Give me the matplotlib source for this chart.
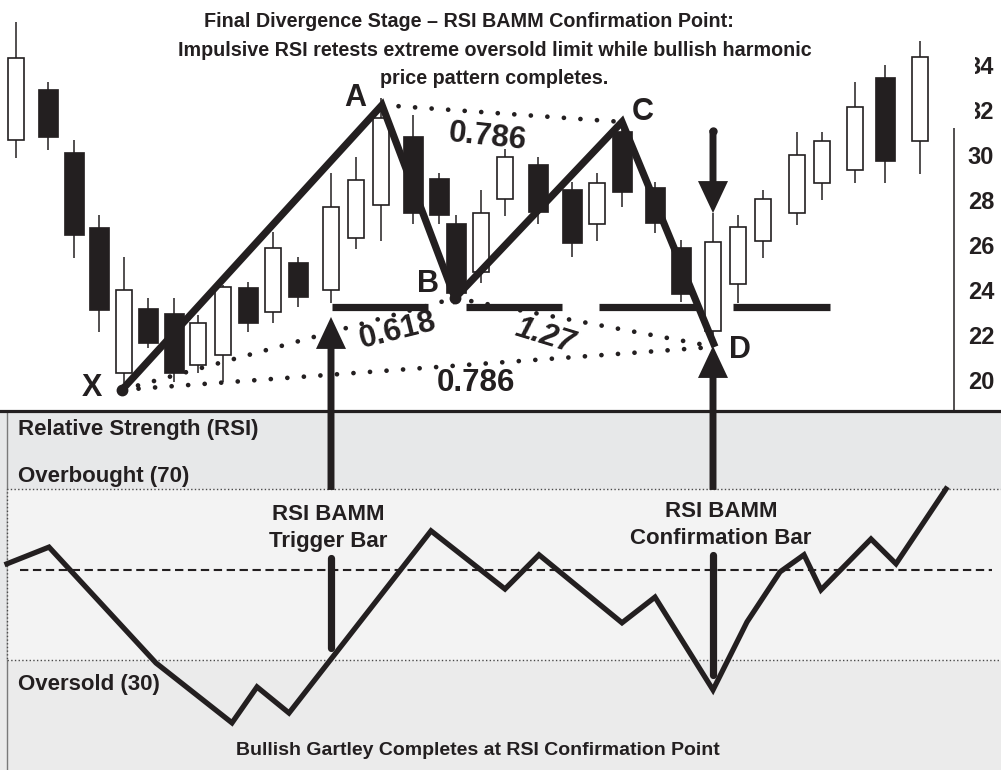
#!/usr/bin/env python3
# Bullish Gartley completing at an RSI BAMM confirmation bar: candlestick
# price panel with the XABCD legs and Fibonacci ratios on top, RSI panel
# with overbought/oversold bands underneath.

import matplotlib
matplotlib.use("Agg")
import matplotlib.pyplot as plt
from matplotlib.patches import Rectangle

INK = "#231f20"
plt.rcParams["font.family"] = ["Liberation Sans", "DejaVu Sans"]
plt.rcParams["font.weight"] = "bold"

# ---------------------------------------------------------------------------
# Data
# ---------------------------------------------------------------------------

# Candles (session position, OHLC)
bar_x = [16, 48, 74, 99, 124, 148, 174, 198, 223, 248, 273, 298, 331, 356,
         381, 413, 439, 456, 481, 505, 538, 572, 597, 622, 655, 681, 713,
         738, 763, 797, 822, 855, 885, 920]
opens = [30.67, 32.93, 30.13, 26.80, 20.31, 23.20, 22.98, 20.67, 21.11,
         24.13, 23.02, 25.24, 24.00, 26.31, 27.78, 30.84, 28.98, 26.98,
         24.80, 28.04, 29.60, 28.49, 26.93, 31.07, 28.58, 25.91, 22.18,
         24.27, 26.18, 27.42, 28.76, 29.33, 33.47, 30.62]
highs = [35.91, 33.24, 30.67, 27.33, 25.47, 23.64, 23.64, 22.89, 24.20,
         24.36, 26.58, 25.47, 29.20, 29.91, 32.53, 31.78, 29.20, 27.33,
         28.44, 30.27, 29.91, 28.80, 29.20, 31.47, 28.80, 26.22, 27.42,
         27.33, 28.44, 31.02, 31.02, 33.24, 34.00, 35.07]
lows = [29.87, 30.22, 25.42, 22.13, 19.87, 21.42, 19.91, 20.31, 19.91,
        22.13, 22.53, 23.24, 23.42, 25.82, 26.18, 26.93, 26.93, 23.64,
        24.31, 27.29, 26.93, 25.47, 26.18, 27.69, 26.53, 23.47, 21.78,
        23.42, 25.42, 26.89, 28.00, 28.76, 28.76, 29.16]
closes = [34.31, 30.80, 26.44, 23.11, 24.00, 21.64, 20.31, 22.53, 24.13,
          22.53, 25.87, 23.69, 27.69, 28.89, 31.64, 27.42, 27.33, 23.87,
          27.42, 29.91, 27.47, 26.09, 28.76, 28.36, 26.98, 23.82, 26.13,
          26.80, 28.04, 30.00, 30.62, 32.13, 29.73, 34.36]

# Harmonic pattern pivots
pivot_names = ["X", "A", "B", "C", "D"]
pivot_x = [122, 382, 455, 622, 715]
pivot_price = [19.56, 32.22, 23.64, 31.47, 21.47]

# Fibonacci ratio legs (pivot index pairs) and their labels
ratio_legs = [(1, 3), (0, 2), (2, 4), (0, 4)]
ratio_labels = ["0.786", "0.618", "1.27", "0.786"]

# Trigger-bar low carried forward
trigger_level = 23.24
trigger_start = [332, 466, 599, 733]
trigger_end = [428, 562, 697, 830]

price_ticks = [20, 22, 24, 26, 28, 30, 32, 34]

# RSI
rsi_x = [7, 49, 156, 232, 257, 289, 431, 505, 539, 622, 655, 713, 747, 780,
         804, 821, 871, 896, 946]
rsi_val = [52.5, 56.4, 29.3, 15.3, 23.7, 17.6, 60.2, 46.6, 54.6, 38.7, 44.7,
           23.0, 38.9, 50.6, 54.6, 46.4, 58.3, 52.5, 70.0]
overbought, oversold, midline = 70, 30, 51

trigger_bar_x = 331
confirm_bar_x = 713

# ---------------------------------------------------------------------------
# Layout
# ---------------------------------------------------------------------------

W, H = 1001, 770
fig = plt.figure(figsize=(W / 100, H / 100), dpi=100)
fig.patch.set_facecolor("white")

ax_rsi = fig.add_axes([0, 0, 1, (H - 412) / H])
ax = fig.add_axes([0, (H - 411) / H, 1, 411 / H], zorder=2)
ax.set_facecolor("none")

ax.set_xlim(0, W)
ax.set_ylim(18.62, 36.89)
ax_rsi.set_xlim(0, W)
ax_rsi.set_ylim(4.27, 88.0)

# ---------------------------------------------------------------------------
# Price panel
# ---------------------------------------------------------------------------

for side in ("top", "left"):
    ax.spines[side].set_visible(False)
ax.spines["bottom"].set_linewidth(2.3)
ax.spines["bottom"].set_color(INK)
ax.spines["right"].set_position(("data", 954))
ax.spines["right"].set_bounds(18.62, 31.2)
ax.spines["right"].set_linewidth(1.1)
ax.spines["right"].set_color(INK)
ax.set_xticks([])
ax.yaxis.tick_right()
ax.set_yticks(price_ticks)
ax.tick_params(axis="y", length=0, pad=10, labelsize=17, labelcolor=INK)
for lbl in ax.get_yticklabels():
    lbl.set_fontweight("bold")
# the upper labels run under the chart area
ax.add_patch(Rectangle((935, 31.2), 40, 6, facecolor="white",
                       edgecolor="none", zorder=6, clip_on=False))

ax.vlines(bar_x, lows, highs, color=INK, lw=1.1, zorder=2)
up = [c >= o for o, c in zip(opens, closes)]
ux = [x for x, u in zip(bar_x, up) if u]
uo = [o for o, u in zip(opens, up) if u]
uc = [c for c, u in zip(closes, up) if u]
dx = [x for x, u in zip(bar_x, up) if not u]
do = [o for o, u in zip(opens, up) if not u]
dc = [c for c, u in zip(closes, up) if not u]
ax.bar(ux, [c - o for o, c in zip(uo, uc)], bottom=uo, width=16,
       facecolor="white", edgecolor=INK, linewidth=1.2, zorder=3)
ax.bar(dx, [o - c for o, c in zip(do, dc)], bottom=dc, width=20,
       facecolor=INK, edgecolor=INK, linewidth=0.5, zorder=3)

# Fibonacci ratio legs, drawn as round dots
for i, j in ratio_legs:
    ax.plot([pivot_x[i], pivot_x[j]], [pivot_price[i], pivot_price[j]],
            color=INK, lw=3.4, linestyle=(0, (0.01, 3.5)),
            dash_capstyle="round", zorder=4)

ax.hlines([trigger_level] * len(trigger_start), trigger_start, trigger_end,
          color=INK, lw=5.2, zorder=4)

# XABCD legs
ax.plot(pivot_x, pivot_price, color=INK, lw=5.2, solid_joinstyle="miter",
        solid_capstyle="butt", zorder=5)
ax.plot([pivot_x[0], pivot_x[2]], [pivot_price[0], pivot_price[2]],
        linestyle="none", marker="o", ms=7.5, color=INK, zorder=5)

label_pos = [(92, 19.64), (355, 32.53), (428, 24.27), (643, 31.91),
             (740, 21.33)]
for name, (lx, ly) in zip(pivot_names, label_pos):
    ax.text(lx, ly, name, fontsize=22, fontweight="bold", color=INK,
            ha="center", va="center", zorder=6)

ratio_pos = [(488, 30.80, -6), (398, 22.18, 14), (545, 21.96, -17),
             (476, 19.87, 0)]
for text, (lx, ly, rot) in zip(ratio_labels, ratio_pos):
    ax.text(lx, ly, text, fontsize=22.5, fontweight="bold", color=INK,
            ha="center", va="center", rotation=rot, zorder=6,
            style="italic" if text == "1.27" else "normal")

# Arrows
arrow = dict(arrowstyle="simple,head_length=1.15,head_width=1.08,"
                        "tail_width=0.25",
             mutation_scale=20, fc=INK, ec="none", shrinkA=0, shrinkB=0,
             patchA=None)
ax.annotate("", xy=(confirm_bar_x, 27.42), xytext=(confirm_bar_x, 31.11),
            arrowprops=arrow, annotation_clip=False)
ax.plot([confirm_bar_x], [31.05], "o", ms=5, color=INK, zorder=5)
ax.annotate("", xy=(trigger_bar_x, 22.80), xytext=(trigger_bar_x, 69.77),
            textcoords=ax_rsi.transData, arrowprops=arrow,
            annotation_clip=False)
ax.annotate("", xy=(confirm_bar_x, 21.51), xytext=(confirm_bar_x, 69.77),
            textcoords=ax_rsi.transData, arrowprops=arrow,
            annotation_clip=False)

title = dict(fontsize=14.2, fontweight="bold", color=INK, ha="center",
             va="baseline")
fig.text(469 / W, 1 - 27 / H,
         "Final Divergence Stage \u2013 RSI BAMM Confirmation Point:", **title)
fig.text(495 / W, 1 - 56 / H,
         "Impulsive RSI retests extreme oversold limit while bullish harmonic",
         **title)
fig.text(494 / W, 1 - 84 / H, "price pattern completes.", **title)

# ---------------------------------------------------------------------------
# RSI panel
# ---------------------------------------------------------------------------

ax_rsi.set_facecolor("#e7e8e9")
ax_rsi.axhspan(4.27, oversold, facecolor="#ebebeb", edgecolor="none",
               zorder=0.2)
for s in ax_rsi.spines.values():
    s.set_visible(False)
ax_rsi.set_xticks([])
ax_rsi.set_yticks([])

ax_rsi.axvline(7, color="#7a7a7a", lw=1.0, zorder=0.5)
ax_rsi.add_patch(Rectangle((7, oversold), W + 20, overbought - oversold,
                           facecolor="#f3f3f3", edgecolor="#4a4a4a",
                           linestyle=":", linewidth=1.0, zorder=1))
ax_rsi.plot([20, 992], [midline, midline], color=INK, lw=1.5,
            dashes=(4, 2.2), zorder=2)

ax_rsi.plot(rsi_x, rsi_val, color=INK, lw=3.8, solid_joinstyle="miter",
            zorder=4)

# shaft of the BAMM arrows below their captions
ax_rsi.plot([trigger_bar_x, trigger_bar_x], [53.9, 32.8], color=INK, lw=5.2,
            solid_capstyle="round", zorder=3)
ax_rsi.plot([confirm_bar_x, confirm_bar_x], [54.6, 26.5], color=INK, lw=5.2,
            solid_capstyle="round", zorder=3)

txt = dict(fontsize=16, fontweight="bold", color=INK, va="baseline")
ax_rsi.text(18, 82.6, "Relative Strength (RSI)", ha="left", **txt)
ax_rsi.text(18, 71.6, "Overbought (70)", ha="left", **txt)
ax_rsi.text(18, 23.0, "Oversold (30)", ha="left", **txt)
ax_rsi.text(328, 62.75, "RSI BAMM", ha="center", **txt)
ax_rsi.text(328, 56.4, "Trigger Bar", ha="center", **txt)
ax_rsi.text(721, 63.45, "RSI BAMM", ha="center", **txt)
ax_rsi.text(721, 57.1, "Confirmation Bar", ha="center", **txt)
ax_rsi.text(478, 7.8, "Bullish Gartley Completes at RSI Confirmation Point",
            ha="center", **dict(txt, fontsize=14))

fig.savefig("out.png", dpi=100)
